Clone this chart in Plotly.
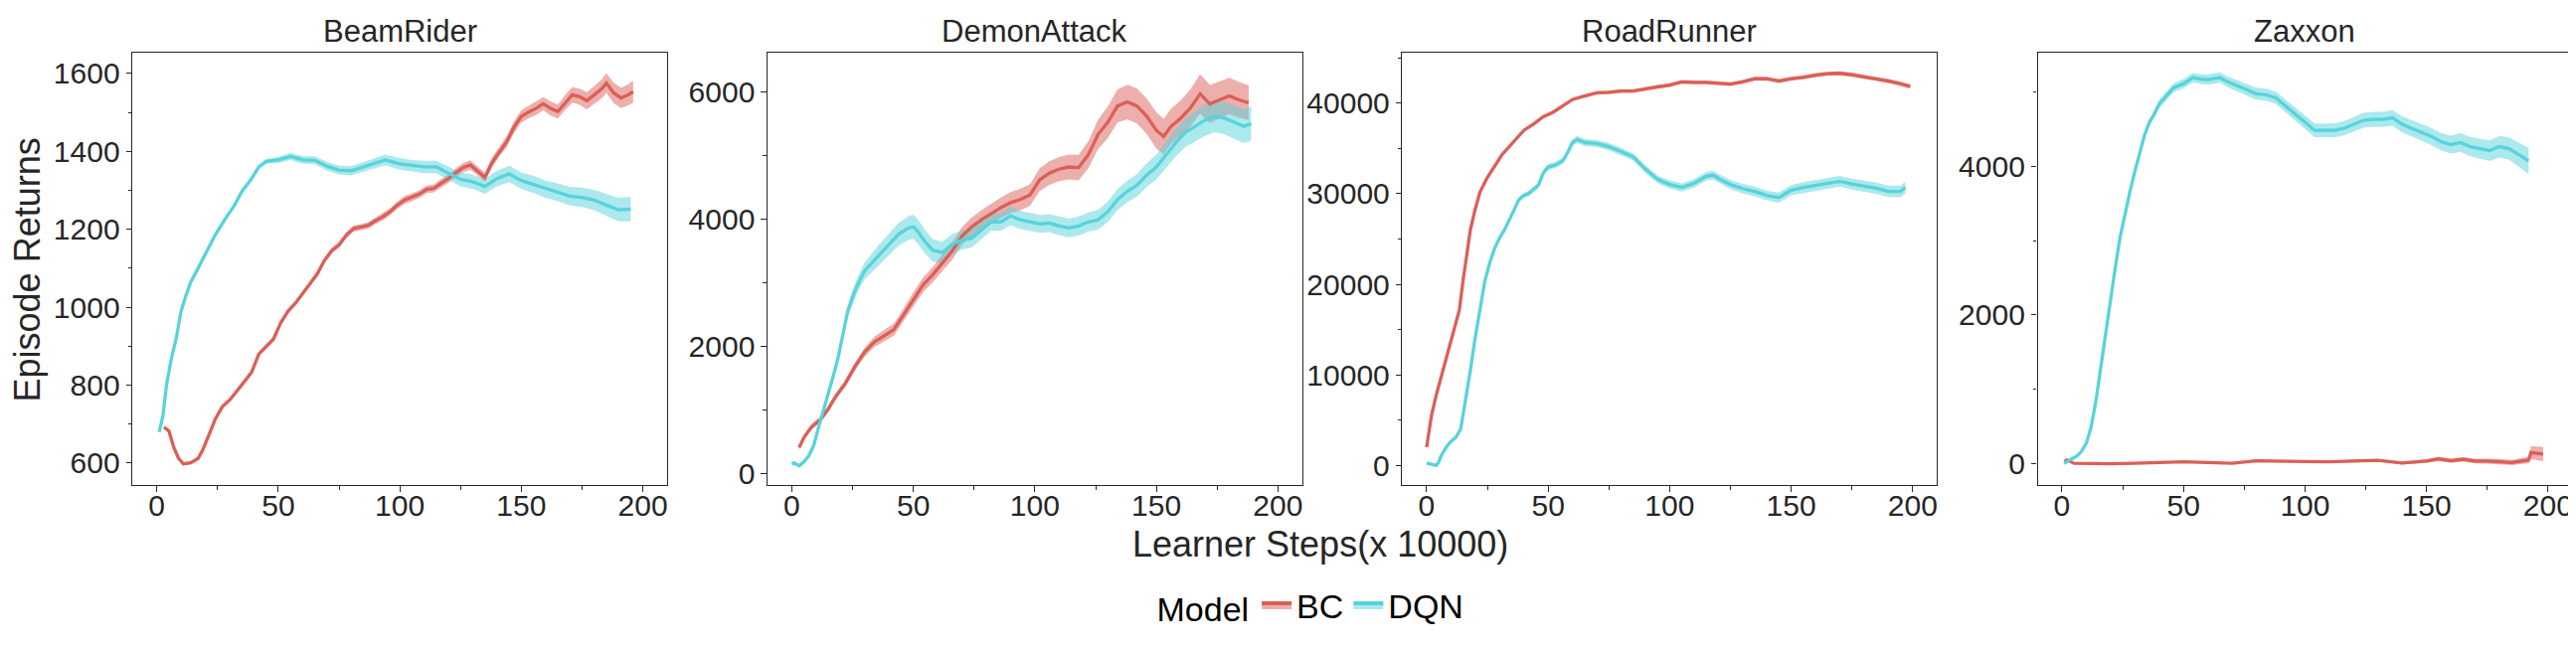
import plotly.graph_objects as go

# ---- data (x in learner steps / 10000) ----
GAMES = ["BeamRider", "DemonAttack", "RoadRunner", "Zaxxon"]
MODELS = ["BC", "DQN"]

beam_bc_x = [3, 5, 7, 9, 11, 14, 17, 19, 21, 24, 27, 30, 33, 36, 39, 42, 45, 48, 51, 54,
             57, 60, 63, 66, 69, 72, 75, 78, 81, 84, 87, 90, 93, 96, 99, 102, 105, 108, 111, 114,
             117, 120, 123, 126, 129, 132, 135, 138, 141, 144, 147, 150, 153, 156, 159, 162, 165, 168,
             171, 174, 177, 180, 183, 185, 188, 191, 194, 196]
beam_bc_y = [692, 682, 640, 612, 598, 601, 612, 635, 665, 712, 745, 762, 785, 810, 833, 880, 900, 918, 960, 990,
             1010, 1035, 1060, 1085, 1120, 1145, 1160, 1185, 1202, 1205, 1210, 1222, 1232, 1245, 1262, 1275, 1282,
             1290, 1302, 1305, 1318, 1330, 1345, 1358, 1365, 1350, 1333, 1372, 1400, 1425, 1462, 1490, 1501, 1510,
             1522, 1510, 1502, 1525, 1545, 1540, 1530, 1545, 1560, 1575, 1550, 1537, 1545, 1553]
beam_bc_err = [4, 4, 4, 4, 4, 4, 4, 4, 5, 5, 5, 5, 5, 5, 5, 6, 6, 6, 6, 6, 6, 6, 7, 7, 7, 7, 7, 8, 8, 8,
               8, 8, 9, 9, 9, 10, 10, 10, 10, 10, 11, 11, 11, 12, 12, 12, 12, 13, 13, 14, 15, 16, 16, 17,
               17, 18, 18, 19, 20, 21, 22, 23, 24, 25, 26, 26, 27, 28]

beam_dqn_x = [1, 2.5, 4, 6, 8, 10, 12, 14, 17, 20, 24, 28, 32, 35, 39, 42, 45, 50, 55, 60, 65, 70, 75, 80,
              85, 90, 94, 100, 105, 110, 115, 120, 125, 130, 135, 140, 145, 150, 155, 160, 165, 170, 175,
              180, 185, 190, 195]
beam_dqn_y = [680, 720, 800, 868, 920, 990, 1030, 1065, 1100, 1135, 1185, 1225, 1262, 1297, 1330, 1360, 1374,
              1378, 1387, 1378, 1377, 1362, 1352, 1350, 1360, 1370, 1378, 1368, 1363, 1360, 1360, 1345, 1328,
              1322, 1310, 1330, 1342, 1325, 1315, 1303, 1295, 1285, 1282, 1275, 1262, 1250, 1252]
beam_dqn_err = [3, 3, 3, 3, 3, 3, 3, 3, 3, 4, 4, 4, 4, 4, 5, 5, 6, 8, 9, 10, 10, 11, 11, 12, 12, 13, 14,
                15, 15, 16, 16, 17, 18, 18, 19, 20, 21, 21, 22, 22, 23, 24, 25, 26, 28, 30, 32]

demon_bc_x = [3, 5, 8, 12, 15, 18, 22, 26, 30, 34, 38, 42, 46, 50, 54, 58, 62, 66, 70, 74, 78, 82, 86, 90,
              94, 98, 102, 106, 110, 114, 118, 122, 126, 130, 134, 138, 142, 146, 150, 153, 156, 160, 164,
              168, 172, 176, 180, 184, 188]
demon_bc_y = [415, 574, 734, 862, 1021, 1213, 1420, 1690, 1915, 2074, 2170, 2266, 2500, 2745, 2968, 3128,
              3319, 3500, 3734, 3880, 3989, 4085, 4181, 4260, 4308, 4380, 4620, 4723, 4787, 4819, 4810, 5011,
              5330, 5521, 5777, 5840, 5777, 5617, 5394, 5298, 5457, 5585, 5745, 5968, 5808, 5872, 5936, 5872, 5828]
demon_bc_err = [40, 40, 45, 45, 50, 50, 55, 60, 70, 80, 90, 95, 100, 110, 115, 120, 130, 135, 140, 145,
                150, 155, 160, 165, 170, 170, 180, 185, 190, 195, 200, 210, 230, 250, 260, 270, 275, 280,
                285, 280, 275, 280, 290, 310, 300, 290, 285, 280, 270]

demon_dqn_x = [0, 1, 3, 5, 7, 9, 11, 13, 15, 17, 19, 21, 23, 25, 27, 30, 33, 36, 40, 44, 48, 50, 52, 55,
               58, 62, 66, 70, 74, 78, 82, 86, 90, 94, 98, 102, 106, 110, 114, 118, 122, 126, 130, 134,
               138, 142, 146, 150, 154, 158, 162, 166, 170, 174, 178, 182, 186, 189]
demon_dqn_y = [160, 172, 128, 191, 287, 447, 734, 989, 1245, 1532, 1819, 2202, 2553, 2777, 2968, 3191, 3319,
               3447, 3606, 3766, 3862, 3880, 3798, 3638, 3510, 3479, 3606, 3670, 3702, 3830, 3957, 3957, 4053,
               3989, 3957, 3925, 3938, 3893, 3862, 3893, 3957, 3989, 4117, 4308, 4436, 4532, 4691, 4819, 5011,
               5202, 5362, 5457, 5553, 5617, 5585, 5521, 5457, 5502]
demon_dqn_err = [30, 30, 30, 30, 35, 35, 40, 45, 50, 60, 70, 80, 95, 110, 120, 135, 150, 160, 170, 180,
                 185, 190, 190, 185, 175, 165, 160, 150, 145, 140, 140, 140, 145, 145, 140, 140, 140, 145,
                 145, 150, 150, 155, 160, 165, 170, 175, 185, 195, 205, 215, 225, 235, 245, 250, 255, 260,
                 265, 270]

road_bc_x = [0, 1, 2, 4, 6, 8, 10, 12, 13.5, 15, 16.5, 18, 20, 22, 25, 28, 31, 34, 37, 40, 44, 48, 52, 56,
             60, 65, 70, 75, 80, 85, 90, 95, 100, 105, 110, 115, 120, 125, 130, 135, 140, 145, 150, 155, 160,
             165, 170, 175, 180, 185, 190, 195, 199]
road_bc_y = [2000, 4000, 5500, 7800, 9800, 12000, 14000, 15800, 17200, 20400, 23500, 26000, 28300, 30200,
             31800, 33100, 34300, 35200, 36100, 37000, 37700, 38500, 39000, 39700, 40400, 40800, 41150, 41200,
             41350, 41350, 41600, 41800, 42000, 42350, 42300, 42300, 42200, 42100, 42350, 42700, 42700, 42450,
             42700, 42850, 43100, 43250, 43300, 43150, 42900, 42700, 42450, 42150, 41850]
road_bc_err = [80, 80, 90, 90, 100, 100, 110, 110, 120, 120, 130, 130, 140, 140, 150, 150, 150, 160, 160,
               160, 170, 170, 170, 180, 180, 180, 180, 190, 190, 190, 190, 200, 200, 200, 200, 200, 210, 210,
               210, 210, 210, 220, 220, 220, 220, 220, 230, 230, 230, 230, 240, 240, 240]

road_dqn_x = [0, 2, 4, 5, 6, 8, 10, 12, 14, 15, 16.5, 18, 20, 22, 24, 26, 28, 30, 32, 34, 36, 38, 40, 42,
              44, 46, 48, 50, 53, 56, 58, 60, 62, 65, 70, 75, 80, 85, 90, 95, 100, 105, 110, 115, 118, 120,
              125, 130, 135, 140, 145, 150, 155, 160, 165, 170, 175, 180, 185, 190, 195, 197]
road_dqn_y = [270, 90, 0, 400, 1080, 1975, 2650, 3100, 4000, 5570, 7810, 10500, 14100, 17240, 20380, 22400,
              23970, 25100, 26000, 27100, 28240, 29360, 29810, 30030, 30480, 30930, 32280, 32950, 33180, 33630,
              34520, 35650, 36000, 35650, 35550, 35200, 34660, 34070, 32730, 31600, 31020, 30700, 31150, 31920,
              32050, 31700, 31020, 30570, 30260, 29810, 29580, 30390, 30700, 30930, 31150, 31380, 31070, 30840,
              30620, 30260, 30260, 30700]
road_dqn_err = [100, 100, 100, 100, 110, 120, 130, 140, 150, 160, 170, 180, 190, 200, 210, 220, 230, 240,
                250, 260, 270, 280, 290, 300, 300, 310, 320, 330, 340, 350, 360, 370, 380, 380, 390, 400,
                400, 410, 420, 430, 450, 460, 470, 480, 490, 500, 510, 520, 530, 540, 560, 570, 580, 590,
                600, 600, 610, 620, 620, 630, 640, 650]

zax_bc_x = [1, 2, 5, 10, 20, 30, 40, 50, 60, 70, 80, 90, 100, 110, 120, 130, 140, 150, 155, 160, 165, 170,
            175, 180, 185, 190, 192, 193, 196, 198]
zax_bc_y = [30, 50, 5, 0, 0, 5, 15, 25, 15, 5, 40, 30, 30, 25, 40, 45, 10, 35, 65, 40, 60, 35, 35, 30, 15,
            40, 50, 150, 140, 130]
zax_bc_err = [10, 10, 8, 8, 8, 8, 10, 10, 10, 10, 12, 12, 14, 14, 15, 16, 18, 25, 30, 30, 32, 32, 34, 35,
              35, 38, 45, 90, 95, 95]

zax_dqn_x = [1, 2, 4, 6, 8, 10, 12, 14, 16, 18, 20, 22, 24, 26, 28, 30, 32, 34, 36, 38, 40, 43, 46, 50, 54,
             57, 60, 63, 65, 68, 72, 76, 80, 84, 88, 92, 96, 100, 104, 108, 112, 116, 120, 124, 128, 132, 136,
             140, 144, 148, 152, 156, 160, 164, 168, 172, 176, 180, 184, 188, 192]
zax_dqn_y = [0, 27, 66, 98, 164, 273, 492, 850, 1300, 1750, 2250, 2650, 3060, 3380, 3660, 3930, 4180, 4420,
             4590, 4700, 4836, 4945, 5055, 5109, 5191, 5170, 5164, 5180, 5191, 5137, 5082, 5027, 4973, 4960,
             4918, 4809, 4699, 4590, 4481, 4481, 4481, 4508, 4563, 4617, 4630, 4630, 4650, 4563, 4508, 4454,
             4399, 4330, 4290, 4317, 4262, 4235, 4208, 4262, 4235, 4153, 4071]
zax_dqn_err = [10, 10, 10, 10, 12, 14, 16, 18, 20, 22, 24, 26, 28, 30, 32, 35, 38, 40, 45, 50, 55, 58, 60,
               62, 65, 65, 68, 70, 70, 72, 75, 78, 80, 80, 82, 85, 88, 90, 92, 92, 95, 95, 98, 100, 100, 102,
               105, 108, 110, 112, 115, 118, 120, 125, 130, 135, 140, 145, 150, 160, 175]

X_TICKS = [0, 50, 100, 150, 200]

# ---- styling ----
W, H = 2591, 653
FONT = "Arial, Liberation Sans, sans-serif"
INK = "#262626"
LINE = {"BC": "#db5f57", "DQN": "#57d3db"}
BAND = {"BC": "rgba(219,95,87,0.5)", "DQN": "rgba(87,211,219,0.5)"}

LEFTS = [125.3, 764.3, 1403.0, 2042.3]   # panel left edges, px
PANEL_W = 538
TOP, BOTTOM = 45, 484

panels = [
    (beam_bc_x, beam_bc_y, beam_bc_err, beam_dqn_x, beam_dqn_y, beam_dqn_err, [543, 1654], 200, 100),
    (demon_bc_x, demon_bc_y, demon_bc_err, demon_dqn_x, demon_dqn_y, demon_dqn_err, [-178, 6619], 2000, 1000),
    (road_bc_x, road_bc_y, road_bc_err, road_dqn_x, road_dqn_y, road_dqn_err, [-2195, 45616], 10000, 5000),
    (zax_bc_x, zax_bc_y, zax_bc_err, zax_dqn_x, zax_dqn_y, zax_dqn_err, [-290, 5530], 2000, 1000),
]

fig = go.Figure()
annotations = []
ydom = [1 - BOTTOM / H, 1 - TOP / H]

for i, (bx, by, be, dx, dy, de, yrange, ydt, yminor) in enumerate(panels):
    suffix = "" if i == 0 else str(i + 1)
    series = {"BC": (bx, by, be), "DQN": (dx, dy, de)}

    # bands first (below both lines, as in matplotlib)
    for m in MODELS:
        xs, ys, err = series[m]
        upper = [v + e for v, e in zip(ys, err)]
        lower = [v - e for v, e in zip(ys, err)]
        fig.add_trace(go.Scatter(
            x=xs + xs[::-1], y=upper + lower[::-1], mode="lines", fill="toself",
            fillcolor=BAND[m], line=dict(width=0), hoverinfo="skip", showlegend=False,
            xaxis="x" + suffix, yaxis="y" + suffix))
    for m in MODELS:
        xs, ys, err = series[m]
        fig.add_trace(go.Scatter(
            x=xs, y=ys, mode="lines", name=m, line=dict(color=LINE[m], width=3.3),
            showlegend=False, xaxis="x" + suffix, yaxis="y" + suffix))

    left = LEFTS[i]
    xdom = [left / W, (left + PANEL_W) / W]
    common = dict(
        showgrid=False, zeroline=False, showline=True, mirror=True,
        linecolor=INK, linewidth=1.3, ticks="outside", ticklen=5.5, tickwidth=1.3,
        tickcolor=INK, tickfont=dict(family=FONT, size=30, color=INK),
    )
    fig.layout["xaxis" + suffix] = dict(
        common, domain=xdom, range=[-10, 210], tickvals=X_TICKS, anchor="y" + suffix,
        ticklabelstandoff=-12,
        minor=dict(dtick=25, tick0=0, ticks="outside", ticklen=3.5, tickwidth=1.1, tickcolor=INK),
    )
    fig.layout["yaxis" + suffix] = dict(
        common, domain=ydom, range=yrange, tick0=0, dtick=ydt, tickformat="d", anchor="x" + suffix,
        minor=dict(dtick=yminor, tick0=0, ticks="outside", ticklen=3.5, tickwidth=1.1, tickcolor=INK),
    )
    annotations.append(dict(
        text=GAMES[i], xref="paper", yref="paper", x=(left + PANEL_W / 2) / W, y=1 - 24 / H,
        xanchor="center", yanchor="middle", showarrow=False,
        font=dict(family=FONT, size=31, color=INK)))

# legend-only entries (line over band, like the seaborn handle)
for m in MODELS:
    fig.add_trace(go.Scatter(
        x=[None], y=[None], mode="lines", name=m, fill="toself", fillcolor=BAND[m],
        line=dict(color=LINE[m], width=4), showlegend=True))

annotations.append(dict(
    text="Episode Returns", xref="paper", yref="paper", x=19.5 / W, y=1 - 265 / H,
    textangle=-90, xanchor="center", yanchor="middle", showarrow=False,
    font=dict(family=FONT, size=36, color=INK)))
annotations.append(dict(
    text="Learner Steps(x 10000)", xref="paper", yref="paper", x=1321 / W, y=1 - 544 / H,
    xanchor="center", yanchor="middle", showarrow=False,
    font=dict(family=FONT, size=36, color=INK)))

fig.update_layout(
    width=W, height=H,
    margin=dict(l=0, r=0, t=0, b=0),
    paper_bgcolor="white", plot_bgcolor="white",
    annotations=annotations,
    legend=dict(
        orientation="h", x=1312 / W, y=1 - 606 / H, xanchor="center", yanchor="middle",
        title=dict(text="Model", side="left", font=dict(family=FONT, size=34, color="black")),
        font=dict(family=FONT, size=34, color="black"),
        itemwidth=30, tracegroupgap=0, bgcolor="rgba(0,0,0,0)",
    ),
)

fig.write_html("out.html")
